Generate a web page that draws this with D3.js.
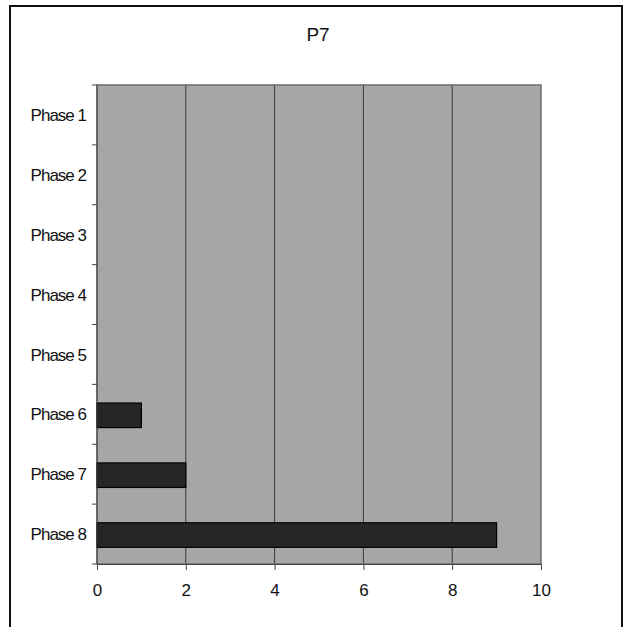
<!DOCTYPE html>
<html><head><meta charset="utf-8">
<script src="https://cdn.jsdelivr.net/npm/d3@7"></script>
<style>html,body{margin:0;padding:0;background:#fff;}svg{display:block;}</style>
</head><body>
<script>
const title = "P7";
const categories = ["Phase 1","Phase 2","Phase 3","Phase 4","Phase 5","Phase 6","Phase 7","Phase 8"];
const values = [0,0,0,0,0,1,2,9];
const xTicks = [0,2,4,6,8,10];

const W = 629, H = 627;
const plot = {left: 97, top: 85, right: 541, bottom: 564};
const svg = d3.select("body").append("svg").attr("width", W).attr("height", H);
const font = "'Liberation Sans', Arial, sans-serif";

// outer frame
svg.append("rect").attr("x", 10).attr("y", 6).attr("width", 612).attr("height", 640)
  .attr("fill", "#fff").attr("stroke", "#111").attr("stroke-width", 2);

const x = d3.scaleLinear().domain([0, 10]).range([plot.left, plot.right]);
const y = d3.scaleBand().domain(categories).range([plot.top, plot.bottom]).paddingInner(0.59).paddingOuter(0.295);
const yb = d3.scaleBand().domain(categories).range([plot.top, plot.bottom]);

svg.append("rect").attr("x", plot.left).attr("y", plot.top)
  .attr("width", plot.right - plot.left).attr("height", plot.bottom - plot.top)
  .attr("fill", "#a6a6a6");

// gridlines
svg.append("g").selectAll("line").data(xTicks.filter(d => d > 0 && d < 10)).join("line")
  .attr("x1", d => x(d)).attr("x2", d => x(d)).attr("y1", plot.top).attr("y2", plot.bottom)
  .attr("stroke", "#3a3a3a").attr("stroke-width", 1);

svg.append("rect").attr("x", plot.left).attr("y", plot.top)
  .attr("width", plot.right - plot.left).attr("height", plot.bottom - plot.top)
  .attr("fill", "none").attr("stroke", "#6e6e6e").attr("stroke-width", 1.5);

// bars
svg.append("g").selectAll("rect").data(categories.map((c, i) => ({c, v: values[i]})).filter(d => d.v > 0)).join("rect")
  .attr("x", x(0)).attr("y", d => y(d.c) + 1).attr("width", d => x(d.v) - x(0))
  .attr("height", y.bandwidth())
  .attr("fill", "#262626").attr("stroke", "#000").attr("stroke-width", 1.2);

// x axis
const xAxis = svg.append("g").attr("transform", `translate(0,${plot.bottom})`)
  .call(d3.axisBottom(x).tickValues(xTicks).tickSize(6).tickPadding(14).tickFormat(d3.format("d")));
xAxis.select(".domain").attr("stroke", "#444");
xAxis.selectAll(".tick line").attr("stroke", "#444");
xAxis.selectAll("text").attr("font-family", font).attr("font-size", 17).attr("fill", "#111");

// y axis ticks (boundaries)
const yBounds = categories.map(c => yb(c)).concat([plot.bottom]);
svg.append("g").selectAll("line").data(yBounds).join("line")
  .attr("x1", plot.left - 5).attr("x2", plot.left).attr("y1", d => d).attr("y2", d => d)
  .attr("stroke", "#444");
svg.append("line").attr("x1", plot.left).attr("x2", plot.left).attr("y1", plot.top).attr("y2", plot.bottom).attr("stroke", "#444");

svg.append("g").selectAll("text").data(categories).join("text")
  .attr("x", 86).attr("y", d => yb(d) + yb.bandwidth() / 2)
  .attr("dy", "0.36em").attr("text-anchor", "end")
  .attr("font-family", font).attr("font-size", 17).attr("letter-spacing", "-1px").attr("fill", "#111")
  .text(d => d);

svg.append("text").attr("x", 318).attr("y", 41).attr("text-anchor", "middle")
  .attr("font-family", font).attr("font-size", 19).attr("fill", "#111").text(title);
</script>
</body></html>
